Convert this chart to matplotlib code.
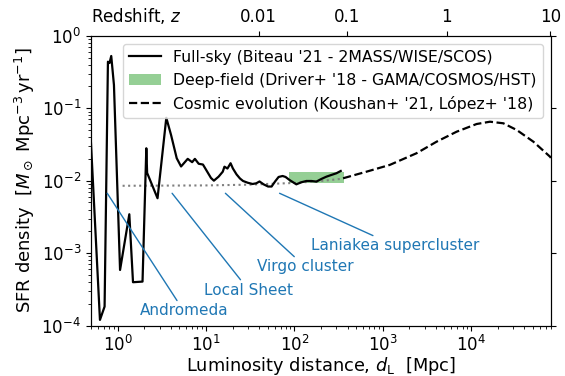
import matplotlib
matplotlib.use("Agg")
import matplotlib.pyplot as plt
from matplotlib.lines import Line2D
from matplotlib.patches import Patch
from matplotlib.ticker import NullLocator, LogLocator

# Full-sky SFR density vs luminosity distance (Mpc, Msun/Mpc^3/yr)
fullsky_dl = [0.50, 0.632, 0.713, 0.778, 0.811, 0.848, 0.910, 1.067, 1.358, 1.495,
              1.916, 2.115, 2.16, 2.833, 3.56, 4.03, 4.67, 5.23, 6.22, 6.98,
              7.50, 8.28, 9.25, 10.05, 11.4, 12.3, 13.9, 15.5, 16.2, 17.5,
              19.0, 20.2, 22.2, 24.3, 26.3, 29.8, 33.7, 37.1, 40.4, 44.9,
              50.5, 55.3, 60.6, 66.4, 73.7, 79.6, 88.4, 105.4, 120, 136.8,
              156, 177.6, 202, 230.5, 263, 299, 335]
fullsky_sfrd = [0.033, 1.2e-4, 1.83e-4, 0.438, 0.42, 0.525, 0.209, 5.86e-4, 3.44e-3, 3.97e-4,
                4.05e-4, 0.028, 0.0128, 0.00572, 0.0737, 0.0427, 0.0204, 0.0157, 0.0200, 0.0180,
                0.0200, 0.0171, 0.0167, 0.0141, 0.0109, 0.0100, 0.01135, 0.0133, 0.0156, 0.0147,
                0.0174, 0.0147, 0.0122, 0.0107, 0.0099, 0.00935, 0.0090, 0.0092, 0.00975, 0.0089,
                0.0083, 0.0083, 0.00975, 0.01125, 0.0116, 0.01125, 0.0102, 0.0089, 0.0095, 0.0099,
                0.0099, 0.0097, 0.01055, 0.01135, 0.0120, 0.01265, 0.0136]

# Deep-field local SFR density range
deep_dl = [86.9, 362.0]
deep_low = 0.0092
deep_high = 0.0133

# Cosmic evolution curve
cosmic_dl = [356, 655, 1203, 2414, 4074, 6871, 11560, 16360, 23170, 32880, 50700, 78300, 80000]
cosmic_sfrd = [0.01079, 0.0133, 0.0165, 0.0239, 0.0345, 0.0474, 0.0605, 0.0651, 0.0619,
               0.0500, 0.0345, 0.0214, 0.0206]

# Low-redshift extension of the cosmic evolution
local_dl = [1.14, 10, 30, 100, 200, 340]
local_sfrd = [0.0085, 0.0086, 0.0088, 0.0093, 0.0099, 0.0106]

# Named structures
struct_names = ["Andromeda", "Local Sheet", "Virgo cluster", "Laniakea supercluster"]
struct_dl = [0.764, 4.14, 16.6, 68.1]
struct_text_dl = [5.6, 30.4, 133.6, 1400]
struct_text_sfrd = [1.6e-4, 3.1e-4, 6.45e-4, 1.26e-3]
struct_mark_sfrd = 0.0067

# Redshift ticks on the top axis
z_labels = ["0.01", "0.1", "1", "10"]
z_tick_dl = [39.4, 392, 5330, 79000]

fig = plt.figure(figsize=(5.65, 3.76), dpi=100)
ax = fig.add_axes([0.161, 0.134, 0.814, 0.771])

ax.fill_between(deep_dl, deep_low, deep_high, color="tab:green", alpha=0.5, lw=0, zorder=1)
ax.plot(local_dl, local_sfrd, ls=":", color="grey", lw=1.5, zorder=2)
ax.plot(fullsky_dl, fullsky_sfrd, color="black", lw=1.6, zorder=3)
ax.plot(cosmic_dl, cosmic_sfrd, color="black", ls="--", lw=1.6, zorder=3)

for name, xd, tx, ty in zip(struct_names, struct_dl, struct_text_dl, struct_text_sfrd):
    ax.annotate(name, xy=(xd, struct_mark_sfrd), xytext=(tx, ty),
                color="tab:blue", fontsize=11, ha="center", va="center",
                arrowprops=dict(arrowstyle="-", color="tab:blue", lw=1.0,
                                shrinkA=0, shrinkB=0))

ax.set_xscale("log")
ax.set_yscale("log")
ax.set_xlim(0.5, 8.0e4)
ax.set_ylim(1e-4, 1.0)
ax.xaxis.set_major_locator(LogLocator(base=10, numticks=10))
ax.tick_params(axis="both", which="major", labelsize=12)
ax.tick_params(axis="y", which="major", right=True)
ax.set_xlabel(r"Luminosity distance, $d_\mathrm{L}$  [Mpc]", fontsize=12.8, labelpad=-0.5)
ax.set_ylabel(r"SFR density  [$M_\odot$ Mpc$^{-3}\,$yr$^{-1}$]", fontsize=13, labelpad=3)

ax_top = ax.twiny()
ax_top.set_xscale("log")
ax_top.set_xlim(ax.get_xlim())
ax_top.set_xticks(z_tick_dl)
ax_top.set_xticklabels(z_labels)
ax_top.xaxis.set_minor_locator(NullLocator())
ax_top.tick_params(axis="x", labelsize=12)
ax.annotate(r"Redshift, $z$", xy=(0, 1), xycoords="axes fraction",
            xytext=(0, 7), textcoords="offset points", ha="left", va="bottom", fontsize=12)

handles = [Line2D([], [], color="black", lw=1.6),
           Patch(facecolor="tab:green", alpha=0.5, lw=0),
           Line2D([], [], color="black", ls="--", lw=1.6)]
labels = ["Full-sky (Biteau '21 - 2MASS/WISE/SCOS)",
          "Deep-field (Driver+ '18 - GAMA/COSMOS/HST)",
          "Cosmic evolution (Koushan+ '21, López+ '18)"]
ax.legend(handles, labels, loc="upper right", fontsize=11.3)

fig.savefig("out.png", dpi=100)
